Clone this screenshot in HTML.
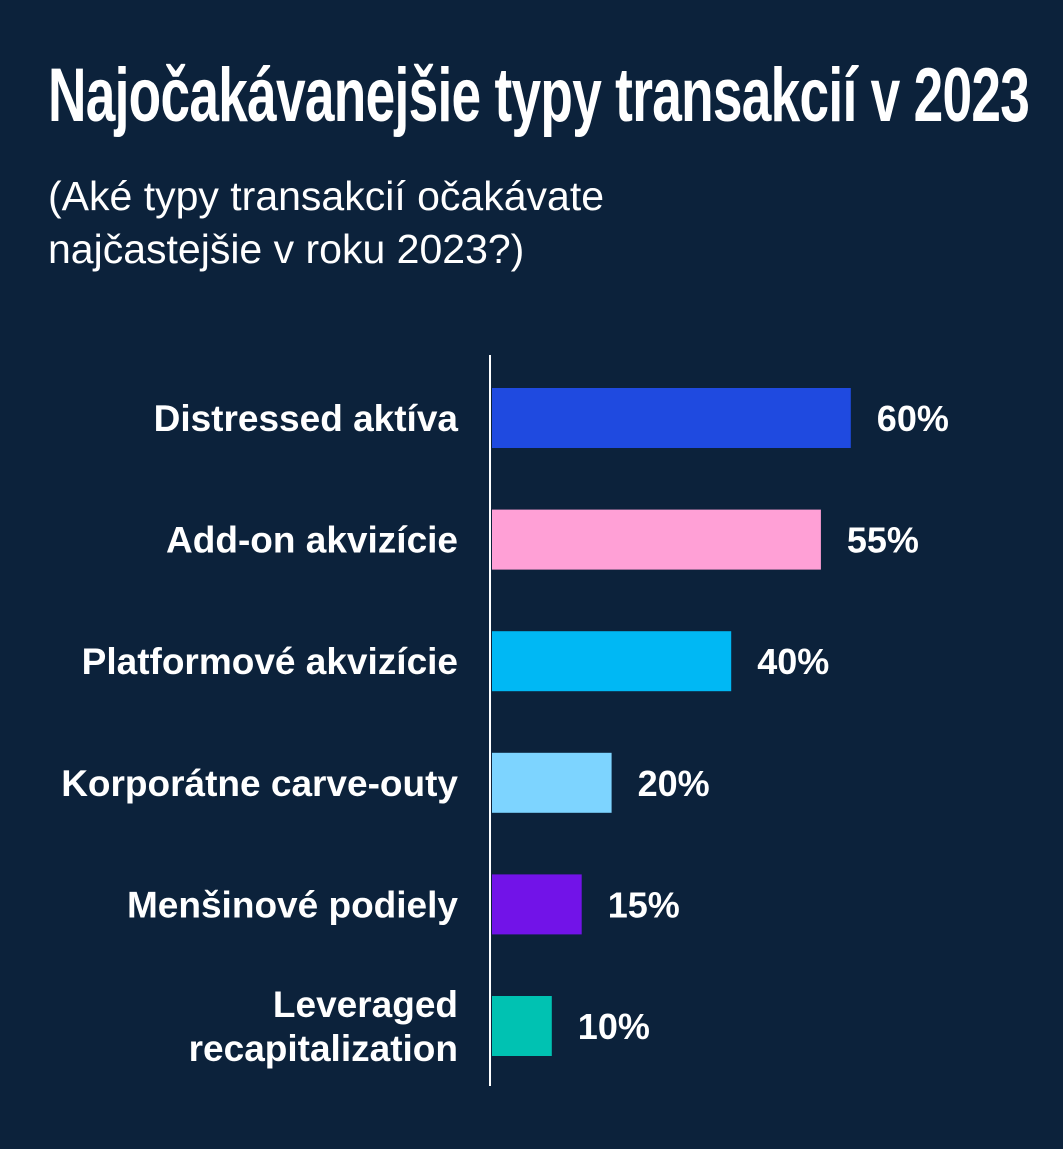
<!DOCTYPE html>
<html><head><meta charset="utf-8"><style>
html,body{margin:0;padding:0;background:#0c223b;}
body{width:1063px;height:1149px;position:relative;overflow:hidden;font-family:"Liberation Sans",sans-serif;color:#fff;}
#title{position:absolute;left:48px;top:52px;font-weight:bold;font-size:76px;white-space:nowrap;transform-origin:0 0;transform:scaleX(0.70);letter-spacing:-1px;}
#sub{position:absolute;left:48px;top:170px;font-size:41px;line-height:53px;}
svg{position:absolute;left:0;top:0;}
</style></head><body>
<div id="title">Najočakávanejšie typy transakcií v 2023</div>
<div id="sub">(Aké typy transakcií očakávate<br>najčastejšie v roku 2023?)</div>
<svg id="chart" width="1063" height="1149"></svg>
<script>
const categories=[["Distressed aktíva"],["Add-on akvizície"],["Platformové akvizície"],["Korporátne carve-outy"],["Menšinové podiely"],["Leveraged","recapitalization"]];
const values=[60,55,40,20,15,10];
const colors=["#1f4ae0","#ffa0d6","#00b8f4","#7dd4ff","#7213e8","#00c2b2"];
const NS="http://www.w3.org/2000/svg";
const svg=document.getElementById('chart');
const x0=492, pxPer=5.98, y0=418, step=121.6, bh=60;
const xs=v=>x0+v*pxPer;
const yc=i=>y0+i*step;
function mk(t,a){const e=document.createElementNS(NS,t);for(const k in a)e.setAttribute(k,a[k]);svg.appendChild(e);return e;}
values.forEach((v,i)=>{
  const r=mk('rect',{x:x0,y:yc(i)-bh/2,width:xs(v)-x0,height:bh,fill:colors[i]});
  
  
  const t=mk('text',{x:xs(v)+26,y:yc(i)+13,fill:'#fff','font-size':36,'font-weight':'bold','font-family':'Liberation Sans, sans-serif'});
  t.textContent=v+'%';
  
  
  const lines=categories[i];
  lines.forEach((ln,j)=>{
    const c=mk('text',{x:458,y:yc(i)+13+(j-(lines.length-1)/2)*44,fill:'#fff','font-size':37,'font-weight':'bold','text-anchor':'end','font-family':'Liberation Sans, sans-serif'});
    c.textContent=ln;
    
    
  });
});
const ax=mk('line',{x1:490,x2:490,y1:355,y2:1086,stroke:'#fff','stroke-width':2});


</script>
</body></html>
